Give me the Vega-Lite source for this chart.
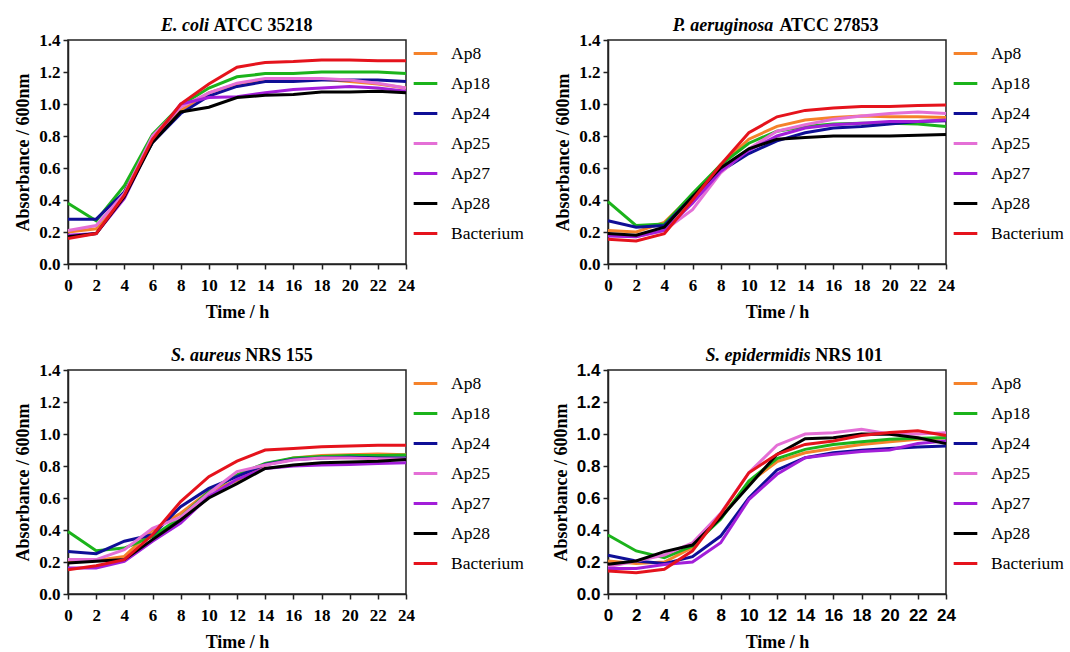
{
  "$schema": "https://vega.github.io/schema/vega-lite/v6.json",
  "background": "white",
  "padding": {"left": 14, "top": 16, "right": 2, "bottom": 5},
  "datasets": {
    "od": [
      {"p":"A","s":"Ap8","t":0,"v":0.20},{"p":"A","s":"Ap8","t":2,"v":0.22},{"p":"A","s":"Ap8","t":4,"v":0.45},{"p":"A","s":"Ap8","t":6,"v":0.78},{"p":"A","s":"Ap8","t":8,"v":0.96},{"p":"A","s":"Ap8","t":10,"v":1.07},{"p":"A","s":"Ap8","t":12,"v":1.125},{"p":"A","s":"Ap8","t":14,"v":1.15},{"p":"A","s":"Ap8","t":16,"v":1.155},{"p":"A","s":"Ap8","t":18,"v":1.155},{"p":"A","s":"Ap8","t":20,"v":1.14},{"p":"A","s":"Ap8","t":22,"v":1.125},{"p":"A","s":"Ap8","t":24,"v":1.10},
      {"p":"A","s":"Ap18","t":0,"v":0.38},{"p":"A","s":"Ap18","t":2,"v":0.27},{"p":"A","s":"Ap18","t":4,"v":0.49},{"p":"A","s":"Ap18","t":6,"v":0.81},{"p":"A","s":"Ap18","t":8,"v":0.99},{"p":"A","s":"Ap18","t":10,"v":1.10},{"p":"A","s":"Ap18","t":12,"v":1.17},{"p":"A","s":"Ap18","t":14,"v":1.19},{"p":"A","s":"Ap18","t":16,"v":1.19},{"p":"A","s":"Ap18","t":18,"v":1.20},{"p":"A","s":"Ap18","t":20,"v":1.20},{"p":"A","s":"Ap18","t":22,"v":1.20},{"p":"A","s":"Ap18","t":24,"v":1.19},
      {"p":"A","s":"Ap24","t":0,"v":0.28},{"p":"A","s":"Ap24","t":2,"v":0.28},{"p":"A","s":"Ap24","t":4,"v":0.45},{"p":"A","s":"Ap24","t":6,"v":0.76},{"p":"A","s":"Ap24","t":8,"v":0.94},{"p":"A","s":"Ap24","t":10,"v":1.05},{"p":"A","s":"Ap24","t":12,"v":1.11},{"p":"A","s":"Ap24","t":14,"v":1.14},{"p":"A","s":"Ap24","t":16,"v":1.14},{"p":"A","s":"Ap24","t":18,"v":1.15},{"p":"A","s":"Ap24","t":20,"v":1.15},{"p":"A","s":"Ap24","t":22,"v":1.15},{"p":"A","s":"Ap24","t":24,"v":1.14},
      {"p":"A","s":"Ap25","t":0,"v":0.21},{"p":"A","s":"Ap25","t":2,"v":0.24},{"p":"A","s":"Ap25","t":4,"v":0.44},{"p":"A","s":"Ap25","t":6,"v":0.80},{"p":"A","s":"Ap25","t":8,"v":0.98},{"p":"A","s":"Ap25","t":10,"v":1.07},{"p":"A","s":"Ap25","t":12,"v":1.13},{"p":"A","s":"Ap25","t":14,"v":1.16},{"p":"A","s":"Ap25","t":16,"v":1.16},{"p":"A","s":"Ap25","t":18,"v":1.16},{"p":"A","s":"Ap25","t":20,"v":1.15},{"p":"A","s":"Ap25","t":22,"v":1.13},{"p":"A","s":"Ap25","t":24,"v":1.10},
      {"p":"A","s":"Ap27","t":0,"v":0.18},{"p":"A","s":"Ap27","t":2,"v":0.19},{"p":"A","s":"Ap27","t":4,"v":0.41},{"p":"A","s":"Ap27","t":6,"v":0.77},{"p":"A","s":"Ap27","t":8,"v":1.00},{"p":"A","s":"Ap27","t":10,"v":1.04},{"p":"A","s":"Ap27","t":12,"v":1.045},{"p":"A","s":"Ap27","t":14,"v":1.07},{"p":"A","s":"Ap27","t":16,"v":1.09},{"p":"A","s":"Ap27","t":18,"v":1.10},{"p":"A","s":"Ap27","t":20,"v":1.11},{"p":"A","s":"Ap27","t":22,"v":1.10},{"p":"A","s":"Ap27","t":24,"v":1.08},
      {"p":"A","s":"Ap28","t":0,"v":0.17},{"p":"A","s":"Ap28","t":2,"v":0.19},{"p":"A","s":"Ap28","t":4,"v":0.42},{"p":"A","s":"Ap28","t":6,"v":0.76},{"p":"A","s":"Ap28","t":8,"v":0.95},{"p":"A","s":"Ap28","t":10,"v":0.98},{"p":"A","s":"Ap28","t":12,"v":1.04},{"p":"A","s":"Ap28","t":14,"v":1.055},{"p":"A","s":"Ap28","t":16,"v":1.06},{"p":"A","s":"Ap28","t":18,"v":1.075},{"p":"A","s":"Ap28","t":20,"v":1.075},{"p":"A","s":"Ap28","t":22,"v":1.08},{"p":"A","s":"Ap28","t":24,"v":1.07},
      {"p":"A","s":"Bacterium","t":0,"v":0.16},{"p":"A","s":"Bacterium","t":2,"v":0.19},{"p":"A","s":"Bacterium","t":4,"v":0.43},{"p":"A","s":"Bacterium","t":6,"v":0.78},{"p":"A","s":"Bacterium","t":8,"v":1.00},{"p":"A","s":"Bacterium","t":10,"v":1.125},{"p":"A","s":"Bacterium","t":12,"v":1.23},{"p":"A","s":"Bacterium","t":14,"v":1.26},{"p":"A","s":"Bacterium","t":16,"v":1.265},{"p":"A","s":"Bacterium","t":18,"v":1.275},{"p":"A","s":"Bacterium","t":20,"v":1.275},{"p":"A","s":"Bacterium","t":22,"v":1.27},{"p":"A","s":"Bacterium","t":24,"v":1.27},

      {"p":"B","s":"Ap8","t":0,"v":0.21},{"p":"B","s":"Ap8","t":2,"v":0.20},{"p":"B","s":"Ap8","t":4,"v":0.26},{"p":"B","s":"Ap8","t":6,"v":0.43},{"p":"B","s":"Ap8","t":8,"v":0.62},{"p":"B","s":"Ap8","t":10,"v":0.78},{"p":"B","s":"Ap8","t":12,"v":0.86},{"p":"B","s":"Ap8","t":14,"v":0.90},{"p":"B","s":"Ap8","t":16,"v":0.915},{"p":"B","s":"Ap8","t":18,"v":0.925},{"p":"B","s":"Ap8","t":20,"v":0.92},{"p":"B","s":"Ap8","t":22,"v":0.92},{"p":"B","s":"Ap8","t":24,"v":0.916},
      {"p":"B","s":"Ap18","t":0,"v":0.39},{"p":"B","s":"Ap18","t":2,"v":0.24},{"p":"B","s":"Ap18","t":4,"v":0.25},{"p":"B","s":"Ap18","t":6,"v":0.44},{"p":"B","s":"Ap18","t":8,"v":0.62},{"p":"B","s":"Ap18","t":10,"v":0.755},{"p":"B","s":"Ap18","t":12,"v":0.83},{"p":"B","s":"Ap18","t":14,"v":0.86},{"p":"B","s":"Ap18","t":16,"v":0.875},{"p":"B","s":"Ap18","t":18,"v":0.88},{"p":"B","s":"Ap18","t":20,"v":0.88},{"p":"B","s":"Ap18","t":22,"v":0.875},{"p":"B","s":"Ap18","t":24,"v":0.86},
      {"p":"B","s":"Ap24","t":0,"v":0.27},{"p":"B","s":"Ap24","t":2,"v":0.23},{"p":"B","s":"Ap24","t":4,"v":0.24},{"p":"B","s":"Ap24","t":6,"v":0.42},{"p":"B","s":"Ap24","t":8,"v":0.58},{"p":"B","s":"Ap24","t":10,"v":0.69},{"p":"B","s":"Ap24","t":12,"v":0.77},{"p":"B","s":"Ap24","t":14,"v":0.82},{"p":"B","s":"Ap24","t":16,"v":0.85},{"p":"B","s":"Ap24","t":18,"v":0.86},{"p":"B","s":"Ap24","t":20,"v":0.875},{"p":"B","s":"Ap24","t":22,"v":0.89},{"p":"B","s":"Ap24","t":24,"v":0.895},
      {"p":"B","s":"Ap25","t":0,"v":0.18},{"p":"B","s":"Ap25","t":2,"v":0.17},{"p":"B","s":"Ap25","t":4,"v":0.21},{"p":"B","s":"Ap25","t":6,"v":0.34},{"p":"B","s":"Ap25","t":8,"v":0.57},{"p":"B","s":"Ap25","t":10,"v":0.72},{"p":"B","s":"Ap25","t":12,"v":0.83},{"p":"B","s":"Ap25","t":14,"v":0.87},{"p":"B","s":"Ap25","t":16,"v":0.905},{"p":"B","s":"Ap25","t":18,"v":0.925},{"p":"B","s":"Ap25","t":20,"v":0.94},{"p":"B","s":"Ap25","t":22,"v":0.95},{"p":"B","s":"Ap25","t":24,"v":0.94},
      {"p":"B","s":"Ap27","t":0,"v":0.175},{"p":"B","s":"Ap27","t":2,"v":0.17},{"p":"B","s":"Ap27","t":4,"v":0.21},{"p":"B","s":"Ap27","t":6,"v":0.38},{"p":"B","s":"Ap27","t":8,"v":0.58},{"p":"B","s":"Ap27","t":10,"v":0.71},{"p":"B","s":"Ap27","t":12,"v":0.80},{"p":"B","s":"Ap27","t":14,"v":0.85},{"p":"B","s":"Ap27","t":16,"v":0.87},{"p":"B","s":"Ap27","t":18,"v":0.88},{"p":"B","s":"Ap27","t":20,"v":0.89},{"p":"B","s":"Ap27","t":22,"v":0.89},{"p":"B","s":"Ap27","t":24,"v":0.90},
      {"p":"B","s":"Ap28","t":0,"v":0.19},{"p":"B","s":"Ap28","t":2,"v":0.18},{"p":"B","s":"Ap28","t":4,"v":0.23},{"p":"B","s":"Ap28","t":6,"v":0.42},{"p":"B","s":"Ap28","t":8,"v":0.60},{"p":"B","s":"Ap28","t":10,"v":0.72},{"p":"B","s":"Ap28","t":12,"v":0.78},{"p":"B","s":"Ap28","t":14,"v":0.79},{"p":"B","s":"Ap28","t":16,"v":0.80},{"p":"B","s":"Ap28","t":18,"v":0.80},{"p":"B","s":"Ap28","t":20,"v":0.80},{"p":"B","s":"Ap28","t":22,"v":0.805},{"p":"B","s":"Ap28","t":24,"v":0.81},
      {"p":"B","s":"Bacterium","t":0,"v":0.154},{"p":"B","s":"Bacterium","t":2,"v":0.144},{"p":"B","s":"Bacterium","t":4,"v":0.19},{"p":"B","s":"Bacterium","t":6,"v":0.40},{"p":"B","s":"Bacterium","t":8,"v":0.62},{"p":"B","s":"Bacterium","t":10,"v":0.82},{"p":"B","s":"Bacterium","t":12,"v":0.92},{"p":"B","s":"Bacterium","t":14,"v":0.96},{"p":"B","s":"Bacterium","t":16,"v":0.975},{"p":"B","s":"Bacterium","t":18,"v":0.985},{"p":"B","s":"Bacterium","t":20,"v":0.985},{"p":"B","s":"Bacterium","t":22,"v":0.99},{"p":"B","s":"Bacterium","t":24,"v":0.994},

      {"p":"C","s":"Ap8","t":0,"v":0.20},{"p":"C","s":"Ap8","t":2,"v":0.21},{"p":"C","s":"Ap8","t":4,"v":0.235},{"p":"C","s":"Ap8","t":6,"v":0.40},{"p":"C","s":"Ap8","t":8,"v":0.505},{"p":"C","s":"Ap8","t":10,"v":0.64},{"p":"C","s":"Ap8","t":12,"v":0.71},{"p":"C","s":"Ap8","t":14,"v":0.806},{"p":"C","s":"Ap8","t":16,"v":0.85},{"p":"C","s":"Ap8","t":18,"v":0.865},{"p":"C","s":"Ap8","t":20,"v":0.87},{"p":"C","s":"Ap8","t":22,"v":0.875},{"p":"C","s":"Ap8","t":24,"v":0.87},
      {"p":"C","s":"Ap18","t":0,"v":0.39},{"p":"C","s":"Ap18","t":2,"v":0.27},{"p":"C","s":"Ap18","t":4,"v":0.287},{"p":"C","s":"Ap18","t":6,"v":0.36},{"p":"C","s":"Ap18","t":8,"v":0.48},{"p":"C","s":"Ap18","t":10,"v":0.64},{"p":"C","s":"Ap18","t":12,"v":0.745},{"p":"C","s":"Ap18","t":14,"v":0.816},{"p":"C","s":"Ap18","t":16,"v":0.85},{"p":"C","s":"Ap18","t":18,"v":0.86},{"p":"C","s":"Ap18","t":20,"v":0.865},{"p":"C","s":"Ap18","t":22,"v":0.865},{"p":"C","s":"Ap18","t":24,"v":0.868},
      {"p":"C","s":"Ap24","t":0,"v":0.266},{"p":"C","s":"Ap24","t":2,"v":0.252},{"p":"C","s":"Ap24","t":4,"v":0.33},{"p":"C","s":"Ap24","t":6,"v":0.37},{"p":"C","s":"Ap24","t":8,"v":0.546},{"p":"C","s":"Ap24","t":10,"v":0.66},{"p":"C","s":"Ap24","t":12,"v":0.733},{"p":"C","s":"Ap24","t":14,"v":0.81},{"p":"C","s":"Ap24","t":16,"v":0.84},{"p":"C","s":"Ap24","t":18,"v":0.85},{"p":"C","s":"Ap24","t":20,"v":0.855},{"p":"C","s":"Ap24","t":22,"v":0.85},{"p":"C","s":"Ap24","t":24,"v":0.85},
      {"p":"C","s":"Ap25","t":0,"v":0.215},{"p":"C","s":"Ap25","t":2,"v":0.215},{"p":"C","s":"Ap25","t":4,"v":0.277},{"p":"C","s":"Ap25","t":6,"v":0.41},{"p":"C","s":"Ap25","t":8,"v":0.48},{"p":"C","s":"Ap25","t":10,"v":0.63},{"p":"C","s":"Ap25","t":12,"v":0.765},{"p":"C","s":"Ap25","t":14,"v":0.806},{"p":"C","s":"Ap25","t":16,"v":0.837},{"p":"C","s":"Ap25","t":18,"v":0.85},{"p":"C","s":"Ap25","t":20,"v":0.85},{"p":"C","s":"Ap25","t":22,"v":0.845},{"p":"C","s":"Ap25","t":24,"v":0.843},
      {"p":"C","s":"Ap27","t":0,"v":0.163},{"p":"C","s":"Ap27","t":2,"v":0.163},{"p":"C","s":"Ap27","t":4,"v":0.204},{"p":"C","s":"Ap27","t":6,"v":0.33},{"p":"C","s":"Ap27","t":8,"v":0.443},{"p":"C","s":"Ap27","t":10,"v":0.61},{"p":"C","s":"Ap27","t":12,"v":0.717},{"p":"C","s":"Ap27","t":14,"v":0.785},{"p":"C","s":"Ap27","t":16,"v":0.80},{"p":"C","s":"Ap27","t":18,"v":0.806},{"p":"C","s":"Ap27","t":20,"v":0.81},{"p":"C","s":"Ap27","t":22,"v":0.815},{"p":"C","s":"Ap27","t":24,"v":0.82},
      {"p":"C","s":"Ap28","t":0,"v":0.194},{"p":"C","s":"Ap28","t":2,"v":0.204},{"p":"C","s":"Ap28","t":4,"v":0.215},{"p":"C","s":"Ap28","t":6,"v":0.34},{"p":"C","s":"Ap28","t":8,"v":0.463},{"p":"C","s":"Ap28","t":10,"v":0.60},{"p":"C","s":"Ap28","t":12,"v":0.69},{"p":"C","s":"Ap28","t":14,"v":0.785},{"p":"C","s":"Ap28","t":16,"v":0.806},{"p":"C","s":"Ap28","t":18,"v":0.82},{"p":"C","s":"Ap28","t":20,"v":0.825},{"p":"C","s":"Ap28","t":22,"v":0.83},{"p":"C","s":"Ap28","t":24,"v":0.84},
      {"p":"C","s":"Bacterium","t":0,"v":0.152},{"p":"C","s":"Bacterium","t":2,"v":0.177},{"p":"C","s":"Bacterium","t":4,"v":0.215},{"p":"C","s":"Bacterium","t":6,"v":0.37},{"p":"C","s":"Bacterium","t":8,"v":0.578},{"p":"C","s":"Bacterium","t":10,"v":0.733},{"p":"C","s":"Bacterium","t":12,"v":0.83},{"p":"C","s":"Bacterium","t":14,"v":0.90},{"p":"C","s":"Bacterium","t":16,"v":0.91},{"p":"C","s":"Bacterium","t":18,"v":0.92},{"p":"C","s":"Bacterium","t":20,"v":0.925},{"p":"C","s":"Bacterium","t":22,"v":0.93},{"p":"C","s":"Bacterium","t":24,"v":0.93},

      {"p":"D","s":"Ap8","t":0,"v":0.206},{"p":"D","s":"Ap8","t":2,"v":0.19},{"p":"D","s":"Ap8","t":4,"v":0.20},{"p":"D","s":"Ap8","t":6,"v":0.29},{"p":"D","s":"Ap8","t":8,"v":0.477},{"p":"D","s":"Ap8","t":10,"v":0.696},{"p":"D","s":"Ap8","t":12,"v":0.827},{"p":"D","s":"Ap8","t":14,"v":0.883},{"p":"D","s":"Ap8","t":16,"v":0.91},{"p":"D","s":"Ap8","t":18,"v":0.935},{"p":"D","s":"Ap8","t":20,"v":0.952},{"p":"D","s":"Ap8","t":22,"v":0.967},{"p":"D","s":"Ap8","t":24,"v":0.977},
      {"p":"D","s":"Ap18","t":0,"v":0.369},{"p":"D","s":"Ap18","t":2,"v":0.269},{"p":"D","s":"Ap18","t":4,"v":0.227},{"p":"D","s":"Ap18","t":6,"v":0.30},{"p":"D","s":"Ap18","t":8,"v":0.467},{"p":"D","s":"Ap18","t":10,"v":0.706},{"p":"D","s":"Ap18","t":12,"v":0.846},{"p":"D","s":"Ap18","t":14,"v":0.904},{"p":"D","s":"Ap18","t":16,"v":0.935},{"p":"D","s":"Ap18","t":18,"v":0.952},{"p":"D","s":"Ap18","t":20,"v":0.967},{"p":"D","s":"Ap18","t":22,"v":0.973},{"p":"D","s":"Ap18","t":24,"v":0.977},
      {"p":"D","s":"Ap24","t":0,"v":0.242},{"p":"D","s":"Ap24","t":2,"v":0.206},{"p":"D","s":"Ap24","t":4,"v":0.19},{"p":"D","s":"Ap24","t":6,"v":0.233},{"p":"D","s":"Ap24","t":8,"v":0.362},{"p":"D","s":"Ap24","t":10,"v":0.60},{"p":"D","s":"Ap24","t":12,"v":0.775},{"p":"D","s":"Ap24","t":14,"v":0.852},{"p":"D","s":"Ap24","t":16,"v":0.883},{"p":"D","s":"Ap24","t":18,"v":0.898},{"p":"D","s":"Ap24","t":20,"v":0.91},{"p":"D","s":"Ap24","t":22,"v":0.919},{"p":"D","s":"Ap24","t":24,"v":0.925},
      {"p":"D","s":"Ap25","t":0,"v":0.17},{"p":"D","s":"Ap25","t":2,"v":0.206},{"p":"D","s":"Ap25","t":4,"v":0.244},{"p":"D","s":"Ap25","t":6,"v":0.32},{"p":"D","s":"Ap25","t":8,"v":0.504},{"p":"D","s":"Ap25","t":10,"v":0.758},{"p":"D","s":"Ap25","t":12,"v":0.93},{"p":"D","s":"Ap25","t":14,"v":1.0},{"p":"D","s":"Ap25","t":16,"v":1.008},{"p":"D","s":"Ap25","t":18,"v":1.03},{"p":"D","s":"Ap25","t":20,"v":1.0},{"p":"D","s":"Ap25","t":22,"v":1.0},{"p":"D","s":"Ap25","t":24,"v":1.008},
      {"p":"D","s":"Ap27","t":0,"v":0.16},{"p":"D","s":"Ap27","t":2,"v":0.16},{"p":"D","s":"Ap27","t":4,"v":0.185},{"p":"D","s":"Ap27","t":6,"v":0.20},{"p":"D","s":"Ap27","t":8,"v":0.32},{"p":"D","s":"Ap27","t":10,"v":0.59},{"p":"D","s":"Ap27","t":12,"v":0.748},{"p":"D","s":"Ap27","t":14,"v":0.852},{"p":"D","s":"Ap27","t":16,"v":0.873},{"p":"D","s":"Ap27","t":18,"v":0.89},{"p":"D","s":"Ap27","t":20,"v":0.90},{"p":"D","s":"Ap27","t":22,"v":0.94},{"p":"D","s":"Ap27","t":24,"v":0.956},
      {"p":"D","s":"Ap28","t":0,"v":0.186},{"p":"D","s":"Ap28","t":2,"v":0.206},{"p":"D","s":"Ap28","t":4,"v":0.265},{"p":"D","s":"Ap28","t":6,"v":0.306},{"p":"D","s":"Ap28","t":8,"v":0.477},{"p":"D","s":"Ap28","t":10,"v":0.675},{"p":"D","s":"Ap28","t":12,"v":0.873},{"p":"D","s":"Ap28","t":14,"v":0.97},{"p":"D","s":"Ap28","t":16,"v":0.977},{"p":"D","s":"Ap28","t":18,"v":1.0},{"p":"D","s":"Ap28","t":20,"v":0.998},{"p":"D","s":"Ap28","t":22,"v":0.977},{"p":"D","s":"Ap28","t":24,"v":0.94},
      {"p":"D","s":"Bacterium","t":0,"v":0.144},{"p":"D","s":"Bacterium","t":2,"v":0.133},{"p":"D","s":"Bacterium","t":4,"v":0.154},{"p":"D","s":"Bacterium","t":6,"v":0.27},{"p":"D","s":"Bacterium","t":8,"v":0.50},{"p":"D","s":"Bacterium","t":10,"v":0.758},{"p":"D","s":"Bacterium","t":12,"v":0.873},{"p":"D","s":"Bacterium","t":14,"v":0.935},{"p":"D","s":"Bacterium","t":16,"v":0.956},{"p":"D","s":"Bacterium","t":18,"v":0.99},{"p":"D","s":"Bacterium","t":20,"v":1.01},{"p":"D","s":"Bacterium","t":22,"v":1.02},{"p":"D","s":"Bacterium","t":24,"v":0.99}
    ]
  },
  "data": {"name": "od"},
  "columns": 2,
  "spacing": {"row": 24, "column": 26},
  "resolve": {"scale": {"color": "independent"}, "legend": {"color": "independent"}},
  "concat": [
    {
      "width": 338, "height": 224,
      "title": {"text": "E. coli", "subtitle": "ATCC 35218", "dx": 26, "encoding": {"dx": {"value": -52}}},
      "transform": [{"filter": "datum.p === 'A'"}],
      "mark": {"type": "line", "strokeWidth": 3},
      "encoding": {
        "x": {"field": "t", "type": "quantitative", "scale": {"domain": [0, 24], "nice": false}, "axis": {"values": [0,2,4,6,8,10,12,14,16,18,20,22,24], "title": "Time / h"}},
        "y": {"field": "v", "type": "quantitative", "scale": {"domain": [0, 1.4], "nice": false}, "axis": {"values": [0,0.2,0.4,0.6,0.8,1.0,1.2,1.4], "format": ".1f", "title": "Absorbance / 600nm"}},
        "color": {"field": "s", "type": "nominal", "sort": null, "scale": {"domain": ["Ap8","Ap18","Ap24","Ap25","Ap27","Ap28","Bacterium"], "range": ["#F5822A","#1BB31B","#0F0F96","#E46FD6","#A21ED9","#000000","#E5131C"]}, "legend": {"title": null}}
      }
    },
    {
      "width": 338, "height": 224,
      "title": {"text": "P. aeruginosa", "subtitle": "ATCC 27853", "dx": 52, "encoding": {"dx": {"value": -54}}},
      "transform": [{"filter": "datum.p === 'B'"}],
      "mark": {"type": "line", "strokeWidth": 3},
      "encoding": {
        "x": {"field": "t", "type": "quantitative", "scale": {"domain": [0, 24], "nice": false}, "axis": {"values": [0,2,4,6,8,10,12,14,16,18,20,22,24], "title": "Time / h"}},
        "y": {"field": "v", "type": "quantitative", "scale": {"domain": [0, 1.4], "nice": false}, "axis": {"values": [0,0.2,0.4,0.6,0.8,1.0,1.2,1.4], "format": ".1f", "title": "Absorbance / 600nm"}},
        "color": {"field": "s", "type": "nominal", "sort": null, "scale": {"domain": ["Ap8","Ap18","Ap24","Ap25","Ap27","Ap28","Bacterium"], "range": ["#F5822A","#1BB31B","#0F0F96","#E46FD6","#A21ED9","#000000","#E5131C"]}, "legend": {"title": null}}
      }
    },
    {
      "width": 338, "height": 224,
      "title": {"text": "S. aureus", "subtitle": "NRS 155", "dx": 42, "encoding": {"dx": {"value": -31}}},
      "transform": [{"filter": "datum.p === 'C'"}],
      "mark": {"type": "line", "strokeWidth": 3},
      "encoding": {
        "x": {"field": "t", "type": "quantitative", "scale": {"domain": [0, 24], "nice": false}, "axis": {"values": [0,2,4,6,8,10,12,14,16,18,20,22,24], "title": "Time / h"}},
        "y": {"field": "v", "type": "quantitative", "scale": {"domain": [0, 1.4], "nice": false}, "axis": {"values": [0,0.2,0.4,0.6,0.8,1.0,1.2,1.4], "format": ".1f", "title": "Absorbance / 600nm"}},
        "color": {"field": "s", "type": "nominal", "sort": null, "scale": {"domain": ["Ap8","Ap18","Ap24","Ap25","Ap27","Ap28","Bacterium"], "range": ["#F5822A","#1BB31B","#0F0F96","#E46FD6","#A21ED9","#000000","#E5131C"]}, "legend": {"title": null}}
      }
    },
    {
      "width": 338, "height": 224,
      "title": {"text": "S. epidermidis", "subtitle": "NRS 101", "dx": 72, "encoding": {"dx": {"value": -19}}},
      "transform": [{"filter": "datum.p === 'D'"}],
      "mark": {"type": "line", "strokeWidth": 3},
      "encoding": {
        "x": {"field": "t", "type": "quantitative", "scale": {"domain": [0, 24], "nice": false}, "axis": {"values": [0,2,4,6,8,10,12,14,16,18,20,22,24], "title": "Time / h", "labelFont": "Liberation Sans", "labelFontSize": 17}},
        "y": {"field": "v", "type": "quantitative", "scale": {"domain": [0, 1.4], "nice": false}, "axis": {"values": [0,0.2,0.4,0.6,0.8,1.0,1.2,1.4], "format": ".1f", "title": "Absorbance / 600nm", "labelFont": "Liberation Sans", "labelFontSize": 17}},
        "color": {"field": "s", "type": "nominal", "sort": null, "scale": {"domain": ["Ap8","Ap18","Ap24","Ap25","Ap27","Ap28","Bacterium"], "range": ["#F5822A","#1BB31B","#0F0F96","#E46FD6","#A21ED9","#000000","#E5131C"]}, "legend": {"title": null}}
      }
    }
  ],
  "config": {
    "font": "Liberation Serif",
    "view": {"stroke": "#222222", "strokeWidth": 1.5},
    "style": {
      "guide-label": {"font": "Liberation Serif"},
      "guide-title": {"font": "Liberation Serif"},
      "group-title": {"font": "Liberation Serif"},
      "group-subtitle": {"font": "Liberation Serif"}
    },
    "axis": {
      "grid": false,
      "domainColor": "#222222", "domainWidth": 1.5,
      "tickColor": "#222222", "tickWidth": 1.5, "tickSize": 5,
      "labelFont": "Liberation Serif", "labelFontSize": 17, "labelFontWeight": "bold", "labelColor": "#000000", "labelPadding": 3,
      "titleFont": "Liberation Serif", "titleFontSize": 18, "titleFontWeight": "bold", "titleColor": "#000000"
    },
    "axisX": {"labelPadding": 8, "titlePadding": 10, "labelFlush": false},
    "axisY": {"titlePadding": 6, "labelFlush": false},
    "legend": {
      "orient": "right", "offset": 0, "padding": 0,
      "symbolType": "stroke", "symbolStrokeWidth": 3, "symbolSize": 560,
      "labelFont": "Liberation Serif", "labelFontSize": 17.5, "labelColor": "#000000", "labelOffset": 12,
      "rowPadding": 8
    },
    "title": {
      "font": "Liberation Serif", "fontSize": 18, "fontWeight": "bold", "fontStyle": "italic", "color": "#000000", "anchor": "middle",
      "subtitleFont": "Liberation Serif", "subtitleFontSize": 18, "subtitleFontWeight": "bold", "subtitleFontStyle": "normal", "subtitleColor": "#000000",
      "subtitlePadding": -18, "offset": -4
    }
  }
}
